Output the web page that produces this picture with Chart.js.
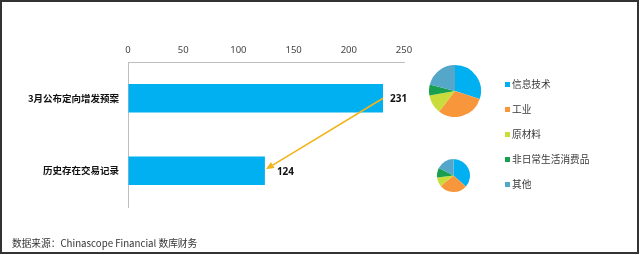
<!DOCTYPE html>
<html>
<head>
<meta charset="utf-8">
<script src="https://cdn.jsdelivr.net/npm/chart.js@4.4.1/dist/chart.umd.min.js"></script>
<style>
html, body { margin: 0; padding: 0; background: #fff; }
body { width: 640px; height: 255px; position: relative; overflow: hidden;
       font-family: "Noto Sans CJK SC", "Noto Sans", sans-serif; }
#frame { position: absolute; left: 0; top: 0; width: 639px; height: 254px;
         box-sizing: border-box; border: 2px solid #333; }
canvas { position: absolute; }
#barChart { left: 0; top: 0; }
#pie1 { left: 429px; top: 65px; }
#pie2 { left: 437px; top: 159px; }
.item { position: absolute; white-space: nowrap; font-size: 9.7px; color: #3a3a3a; line-height: 12px; }
.sw { display: inline-block; width: 5px; height: 5px; margin-right: 2px; vertical-align: middle; position: relative; top: -1px; }
#source { position: absolute; left: 12px; top: 236px; font-size: 9.7px; color: #333; white-space: nowrap; }
</style>
</head>
<body>
<div id="frame"></div>
<canvas id="barChart" width="640" height="255"></canvas>
<canvas id="pie1" width="52" height="52"></canvas>
<canvas id="pie2" width="33" height="33"></canvas>
<div id="legend"></div>
<div id="source">数据来源：Chinascope Financial 数库财务</div>
<script>
// data
const categories = ['3月公布定向增发预案', '历史存在交易记录'];
const companyCounts = [231, 124];
const xTicks = [0, 50, 100, 150, 200, 250];

const sectors = ['信息技术', '工业', '原材料', '非日常生活消费品', '其他'];
const sectorShareNew = [30, 30.5, 11.7, 6.8, 21];   // upper pie (%)
const sectorShareHist = [36.5, 27.5, 9, 9.5, 17.5]; // lower pie (%)

const sectorColors = ['#00B0F0', '#F7963A', '#C9DC3C', '#18A050', '#55A7CA'];
const barColor = '#00B0F0';
const arrowColor = '#F2B41A';

// value labels + arrow between the two bars
const barExtras = {
    id: 'barExtras',
    afterDatasetsDraw(chart) {
        const ctx = chart.ctx;
        const bars = chart.getDatasetMeta(0).data;
        const gaps = [7, 12];
        ctx.save();
        ctx.font = 'bold 10px "Noto Sans", sans-serif';
        ctx.fillStyle = '#111';
        ctx.textBaseline = 'middle';
        bars.forEach((b, i) => ctx.fillText(companyCounts[i], b.x + gaps[i], b.y + 1));

        const a = bars[0], c = bars[1];
        const x0 = a.x, y0 = a.y, x1 = c.x + 1, y1 = c.y - 1.5;
        const ang = Math.atan2(y1 - y0, x1 - x0);
        const hl = 8, hw = 3.5;
        const bx = x1 - hl * Math.cos(ang), by = y1 - hl * Math.sin(ang);
        ctx.strokeStyle = arrowColor;
        ctx.fillStyle = arrowColor;
        ctx.lineWidth = 1.6;
        ctx.beginPath();
        ctx.moveTo(x0, y0);
        ctx.lineTo(bx, by);
        ctx.stroke();
        ctx.beginPath();
        ctx.moveTo(x1, y1);
        ctx.lineTo(bx + hw * Math.sin(ang), by - hw * Math.cos(ang));
        ctx.lineTo(bx - hw * Math.sin(ang), by + hw * Math.cos(ang));
        ctx.closePath();
        ctx.fill();
        ctx.restore();
    }
};

new Chart(document.getElementById('barChart'), {
    type: 'bar',
    data: {
        labels: categories,
        datasets: [{
            data: companyCounts,
            backgroundColor: barColor,
            borderWidth: 0,
            barPercentage: 0.39,
            categoryPercentage: 1
        }]
    },
    options: {
        indexAxis: 'y',
        responsive: false,
        animation: false,
        layout: { padding: { top: 40, left: 0, right: 236, bottom: 48 } },
        plugins: { legend: { display: false }, tooltip: { enabled: false } },
        scales: {
            x: {
                position: 'top',
                min: 0,
                max: 250,
                afterBuildTicks: s => { s.ticks = xTicks.map(v => ({ value: v })); },
                afterFit: s => { s.height = 22; },
                grid: { color: 'transparent', drawTicks: false },
                border: { display: true, color: '#BFBFBF', width: 1 },
                ticks: { padding: 6, color: '#444', font: { family: '"Noto Sans", sans-serif', size: 9.5 } }
            },
            y: {
                afterFit: s => { s.width = 128; },
                grid: { color: 'transparent', drawTicks: false },
                border: { display: true, color: '#BFBFBF', width: 1 },
                ticks: { padding: 9, color: '#111', font: { family: '"Noto Sans CJK SC", sans-serif', size: 9.5, weight: 'bold' } }
            }
        }
    },
    plugins: [barExtras]
});

function makePie(id, values) {
    new Chart(document.getElementById(id), {
        type: 'pie',
        data: {
            labels: sectors,
            datasets: [{ data: values, backgroundColor: sectorColors, borderWidth: 0 }]
        },
        options: {
            responsive: false,
            animation: false,
            layout: { padding: 0 },
            plugins: { legend: { display: false }, tooltip: { enabled: false } }
        }
    });
}
makePie('pie1', sectorShareNew);
makePie('pie2', sectorShareHist);

// legend next to the pies
const legend = document.getElementById('legend');
const legendTops = [78, 103, 128, 153, 178];
sectors.forEach((name, i) => {
    const d = document.createElement('div');
    d.className = 'item';
    d.style.left = '505px';
    d.style.top = legendTops[i] + 'px';
    d.innerHTML = '<span class="sw" style="background:' + sectorColors[i] + '"></span>' + name;
    legend.appendChild(d);
});
</script>
</body>
</html>
